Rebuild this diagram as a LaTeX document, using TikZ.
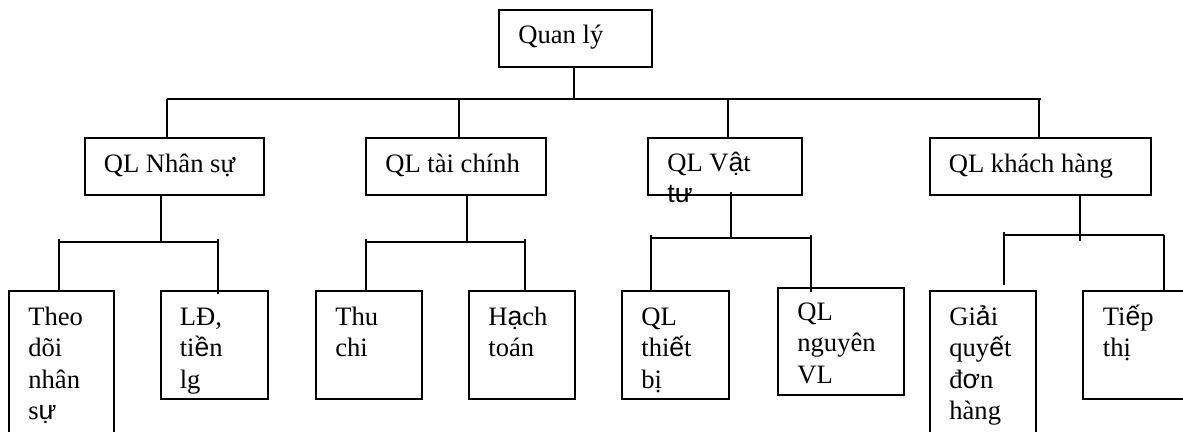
\documentclass[tikz,border=0pt]{standalone}
\usepackage{fontspec}
\setmainfont{Liberation Serif}
\newfontfamily\altfont{Liberation Sans}
% a few accented letters are set in the sans face
\newcommand\sg[1]{{\altfont#1}}
% left-aligned lines whose baseline is that of the first line
\newcommand\stk[1]{\vtop{\let\\\cr\halign{##\hfil\cr#1\cr}}}
\usetikzlibrary{calc}

\begin{document}
\begin{tikzpicture}[x=1pt,y=-1pt,line width=1.7pt,
  box/.style={draw,line width=1.7pt,anchor=north west,inner sep=0pt},
  lbl/.style={anchor=base west,inner sep=0pt,
              font=\fontsize{26.6}{31.5}\selectfont},
  wire/.style={draw,line width=1.7pt}]
\useasboundingbox (0,0) rectangle (1183,431);
\clip (0,0) rectangle (1183,431);

% ---- boxes ----
\node[box,minimum width=153pt,minimum height=57pt] (root) at (498,9) {};
\node[box,minimum width=179pt,minimum height=57pt] (n1) at (84,137) {};
\node[box,minimum width=180pt,minimum height=57pt] (n2) at (365,137) {};
\node[box,minimum width=154pt,minimum height=57pt] (n3) at (647,137) {};
\node[box,minimum width=221pt,minimum height=57pt] (n4) at (929,137) {};

\node[box,minimum width=105pt,minimum height=170pt] (a1) at (8,290) {};
\node[box,minimum width=107pt,minimum height=108pt] (a2) at (160,290) {};
\node[box,minimum width=106pt,minimum height=108pt] (b1) at (315,290) {};
\node[box,minimum width=106pt,minimum height=108pt] (b2) at (468,290) {};
\node[box,minimum width=107pt,minimum height=108pt] (c1) at (621,290) {};
\node[box,minimum width=126pt,minimum height=107pt] (c2) at (777,287) {};
\node[box,minimum width=106pt,minimum height=170pt] (d1) at (929,290) {};
\node[box,minimum width=130pt,minimum height=108pt] (d2) at (1082,290) {};

% ---- texts ----
\node[lbl] (root-t) at ($(root.north west)+(19.5,34)$) {\stk{Quan lý}};
\node[lbl] (n1-t) at ($(n1.north west)+(19,35)$) {\stk{QL Nhân sự}};
\node[lbl] (n2-t) at ($(n2.north west)+(19.5,35)$) {\stk{QL tài chính}};
\node[lbl] (n3-t) at ($(n3.north west)+(19.5,34)$) {\stk{QL V\sg{ậ}t\\\sg{tư}}};
\node[lbl] (n4-t) at ($(n4.north west)+(19,35)$) {\stk{QL khách hàng}};

\node[lbl] (a1-t) at ($(a1.north west)+(19.5,35)$) {\stk{Theo\\dõi\\nhân\\s\sg{ự}}};
\node[lbl] (a2-t) at ($(a2.north west)+(19,35)$) {\stk{LĐ,\\ti\sg{ề}n\\lg}};
\node[lbl] (b1-t) at ($(b1.north west)+(19.5,35)$) {\stk{Thu\\chi}};
\node[lbl] (b2-t) at ($(b2.north west)+(19.5,35)$) {\stk{H\sg{ạ}ch\\toán}};
\node[lbl] (c1-t) at ($(c1.north west)+(19.5,35)$) {\stk{QL\\thi\sg{ế}t\\bị}};
\node[lbl] (c2-t) at ($(c2.north west)+(19.5,33)$) {\stk{QL\\nguyên\\VL}};
\node[lbl] (d1-t) at ($(d1.north west)+(19.5,35)$) {\stk{Gi\sg{ả}i\\quy\sg{ế}t\\đ\sg{ơ}n\\hàng}};
\node[lbl] (d2-t) at ($(d2.north west)+(20,35)$) {\stk{Ti\sg{ế}p\\thị}};

% ---- first level connectors ----
\coordinate (j0) at (574,99);
\coordinate (busL) at (167,99);
\coordinate (busR) at (1041,99);
\draw[wire] (root.south -| j0) -- (j0);
\draw[wire] (busL) -- (busR);
\foreach \n/\x in {n1/167,n2/459,n3/728,n4/1039}{
  \coordinate (dp) at (\x,99);
  \draw[wire] (dp) -- (dp |- \n.north);
}

% ---- second level connectors ----
% QL Nhan su
\coordinate (s1) at (161,242);
\coordinate (s1L) at (59,242);
\coordinate (s1R) at (218,242);
\draw[wire] (s1 |- n1.south) -- (s1);
\draw[wire] (s1L) -- (s1R);
\draw[wire] ($(s1L)+(0,-3)$) -- (s1L |- a1.north);
\draw[wire] ($(s1R)+(0,-3)$) -- ($(s1R |- a2.north)+(0,4)$);

% QL tai chinh
\coordinate (s2) at (467,242);
\coordinate (s2L) at (366,242);
\coordinate (s2R) at (525,242);
\draw[wire] (s2 |- n2.south) -- (s2);
\draw[wire] (s2L) -- (s2R);
\draw[wire] ($(s2L)+(0,-3)$) -- (s2L |- b1.north);
\draw[wire] ($(s2R)+(0,-3)$) -- (s2R |- b2.north);

% QL vat tu
\coordinate (s3) at (731,238);
\coordinate (s3L) at (651,238);
\coordinate (s3R) at (811,238);
\draw[wire] ($(s3 |- n3.south)+(0,-4)$) -- (s3);
\draw[wire] (s3L) -- (s3R);
\draw[wire] ($(s3L)+(0,-3)$) -- (s3L |- c1.north);
\draw[wire] ($(s3R)+(0,-3)$) -- ($(s3R |- c2.north)+(0,5)$);

% QL khach hang
\coordinate (s4) at (1080,235);
\coordinate (s4L) at (1004,235);
\coordinate (s4R) at (1164,235);
\draw[wire] (s4 |- n4.south) -- ($(s4)+(0,6)$);
\draw[wire] (s4L) -- (s4R);
\draw[wire] ($(s4L)+(0,-3)$) -- ($(s4L |- d1.north)+(0,-5)$);
\draw[wire] (s4R) -- (s4R |- d2.north);
\end{tikzpicture}
\end{document}
